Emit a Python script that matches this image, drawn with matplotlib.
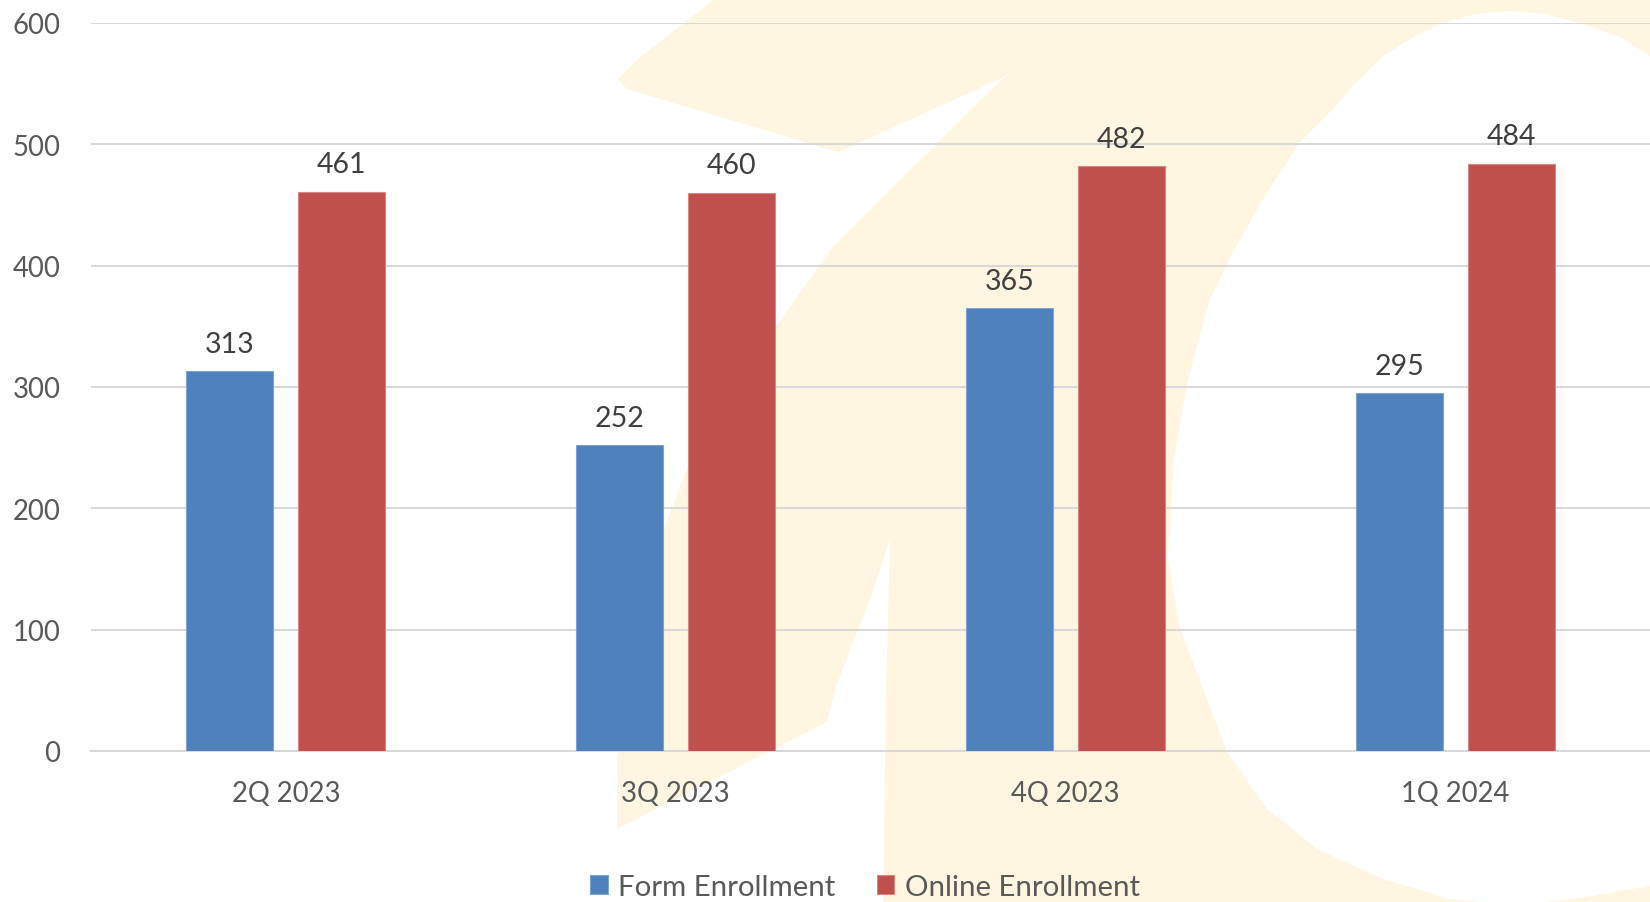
import matplotlib
matplotlib.use("Agg")
import matplotlib.pyplot as plt
import numpy as np
from matplotlib.patches import Polygon

# ---- data ----
quarters = ["2Q 2023", "3Q 2023", "4Q 2023", "1Q 2024"]
form_enrollment = [313, 252, 365, 295]
online_enrollment = [461, 460, 482, 484]
series_names = ["Form Enrollment", "Online Enrollment"]
y_ticks = [0, 100, 200, 300, 400, 500, 600]

plt.rcParams['font.family'] = ['Lato', 'DejaVu Sans']

W, H = 1650, 903
fig = plt.figure(figsize=(W / 100, H / 100), dpi=100)
fig.patch.set_facecolor('white')

# ---- faint background watermark (pixel coordinates, y down) ----
bg = fig.add_axes([0, 0, 1, 1], zorder=0)
bg.set_xlim(0, W)
bg.set_ylim(H, 0)
bg.axis('off')
wm = [(715, 0), (1650, 0), (1650, 57), (1620, 38), (1583, 25), (1545, 15),
      (1510, 12), (1475, 15), (1440, 25), (1410, 40), (1383, 57), (1355, 85),
      (1333, 110), (1300, 143), (1267, 193), (1233, 253), (1210, 300),
      (1188, 380), (1174, 460), (1168, 560), (1180, 630), (1207, 700),
      (1227, 753), (1267, 810), (1317, 850), (1383, 880), (1450, 900),
      (1517, 906), (1580, 899), (1650, 887), (1650, 910),
      (883, 910), (886, 700), (890, 540), (870, 600), (835, 690), (827, 723),
      (617, 830), (617, 760), (640, 640), (663, 533), (687, 470), (760, 350),
      (831, 250), (1000, 82), (1012, 72), (1000, 80), (838, 153), (627, 90),
      (618, 80), (640, 58)]
bg.add_patch(Polygon(wm, closed=True, facecolor='#FEF6E1', edgecolor='none'))

# ---- main axes ----
ax = fig.add_axes([91 / W, 151 / H, 1 - 91 / W, (752 - 24) / H], zorder=1)
ax.set_facecolor('none')

x = np.arange(len(quarters))
bw = 0.223
off = 0.1435
blue = '#4F81BD'
red = '#C0504D'
b1 = ax.bar(x - off, form_enrollment, bw, color=blue, edgecolor='#7FA2D0',
            linewidth=0.8, label=series_names[0], zorder=3)
b2 = ax.bar(x + off, online_enrollment, bw, color=red, edgecolor='#D98583',
            linewidth=0.8, label=series_names[1], zorder=3)

for xs, vals in ((x - off, form_enrollment), (x + off, online_enrollment)):
    for xi, v in zip(xs, vals):
        ax.annotate(f"{v}", (xi, v), xytext=(0, 14), textcoords='offset points',
                    ha='center', va='baseline', fontsize=20.5, color='#404040')

ax.set_xlim(-0.5, len(quarters) - 0.5)
ax.set_ylim(0, 600)
ax.set_yticks(y_ticks)
ax.set_yticklabels([str(t) for t in y_ticks])
ax.set_xticks(x)
ax.set_xticklabels(quarters)
ax.tick_params(axis='both', length=0, labelsize=19.8, labelcolor='#595959')
ax.tick_params(axis='y', pad=22)
ax.tick_params(axis='x', pad=21)
ax.yaxis.grid(True, color='#D9D9D9', linewidth=1.5, zorder=0)
ax.set_axisbelow(True)
for s in ['top', 'right', 'left']:
    ax.spines[s].set_visible(False)
ax.spines['bottom'].set_color('#D9D9D9')
ax.spines['bottom'].set_linewidth(1.5)

fig.legend(handles=[b1, b2], labels=series_names, loc='center',
           bbox_to_anchor=(865 / W, 1 - 888 / H), ncol=2, frameon=False,
           fontsize=21.2, handlelength=0.6, handleheight=0.6,
           handletextpad=0.35, columnspacing=1.4, labelcolor='#595959')

fig.savefig('out.png', dpi=100, facecolor='white')
